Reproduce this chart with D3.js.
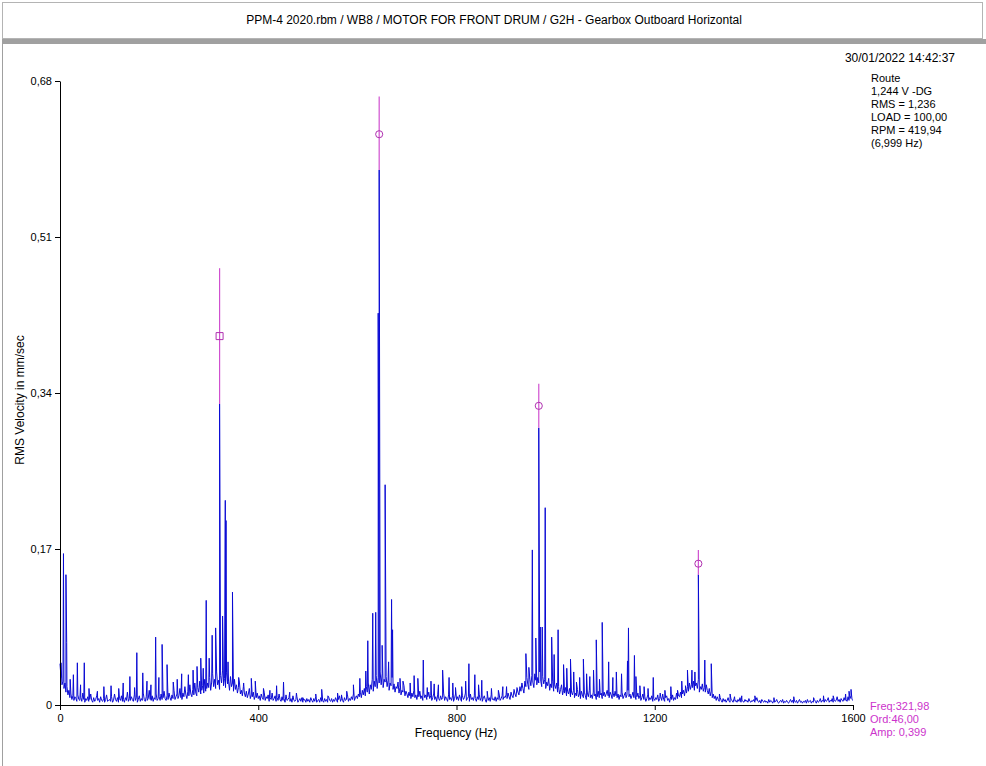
<!DOCTYPE html>
<html>
<head>
<meta charset="utf-8">
<script src="https://cdnjs.cloudflare.com/ajax/libs/d3/7.8.5/d3.min.js"></script>
<style>
  body { margin: 0; background: #fff; }
  svg { display: block; font-family: "Liberation Sans", Arial, sans-serif; }
</style>
</head>
<body>
<div id="chart"></div>
<script>
// Spectrum data
//================================
// noise floor, one value every 2 Hz from 0 to 1600 Hz, in 0.001 mm/sec (one row = 100 Hz)
var floorStep = 2;
var floorVals = [
  45,30,22,26,18,24,14,20,11,16, 8,12,6,10,5,9,7,4,11,6, 5,8,4,13,6,3,7,5,9,4, 6,12,5,3,8,4,6,10,5,7, 3,9,5,4,7,3,6,11,4,5,
  6,4,9,3,5,12,6,4,8,3, 7,5,10,4,6,3,8,5,14,4, 7,5,9,6,4,11,5,8,3,6, 10,4,7,5,13,6,4,9,5,7, 16,6,5,10,4,8,6,12,5,7,
  9,5,12,6,8,15,7,5,10,6, 13,8,5,11,7,16,6,9,12,7, 10,18,8,6,13,9,20,11,7,15, 10,22,12,9,17,11,24,13,10,19, 14,26,12,16,21,13,28,15,18,24,
  19,30,16,25,34,20,28,18,36,22, 27,17,32,24,38,21,29,19,35,23, 26,16,31,20,24,15,28,17,22,13, 19,25,12,16,10,20,13,9,15,8, 12,18,7,11,9,14,6,10,8,13,
  7,10,5,12,8,6,14,5,9,7, 11,4,8,6,13,5,7,10,4,8, 5,12,6,4,9,5,7,3,11,5, 6,8,4,7,3,10,5,4,6,9, 3,5,7,4,8,3,5,6,3,7,
  4,6,3,8,5,3,7,4,9,3, 5,6,3,8,4,5,3,7,4,6, 3,9,5,4,7,3,6,4,8,5, 3,6,10,4,7,5,3,8,5,6, 11,4,7,5,9,6,12,5,8,10,
  7,12,9,14,8,16,11,18,10,20, 14,24,12,22,17,28,15,26,20,32, 18,30,24,36,22,34,19,28,25,31, 20,27,16,24,21,30,17,23,14,20, 18,25,13,19,11,16,14,21,10,15,
  12,8,14,10,7,13,9,16,8,11, 6,12,9,15,7,10,5,13,8,11, 6,9,14,7,10,5,8,12,6,9, 4,11,7,5,10,6,8,13,5,9, 7,4,11,6,8,5,10,4,7,12,
  6,9,5,11,7,4,10,6,8,13, 5,7,9,4,12,6,8,5,10,7, 4,9,6,11,5,8,4,7,10,6, 3,9,5,8,4,11,6,7,5,9, 4,8,6,12,5,7,10,6,9,8,
  11,7,13,9,6,14,10,8,16,12, 9,18,14,11,20,15,24,18,13,26, 20,30,22,17,28,21,32,25,19,34, 27,22,30,24,36,26,20,31,23,28, 18,25,21,29,16,23,19,26,15,22,
  18,24,14,20,12,17,22,11,16,13, 19,10,15,12,18,9,14,11,16,8, 13,10,17,9,12,7,15,11,8,14, 10,6,13,9,16,8,11,7,14,10, 12,6,9,15,8,11,13,7,10,14,
  9,12,16,10,8,14,11,7,13,9, 15,10,8,12,6,11,9,14,7,10, 13,8,11,16,9,12,7,10,14,8, 11,6,9,13,7,10,5,8,12,6, 9,4,7,11,5,8,6,10,4,7,
  5,8,6,11,4,7,9,5,12,6, 4,8,10,5,7,3,9,6,11,5, 8,6,13,7,10,9,14,8,12,16, 10,18,13,20,15,24,17,22,19,26, 16,21,24,18,28,14,20,17,23,15,
  19,14,22,16,12,18,10,15,8,12, 7,10,5,9,6,4,8,5,3,7, 4,6,3,5,8,4,3,6,5,3, 7,4,5,3,6,4,8,3,5,4, 3,6,4,5,3,7,4,3,5,4,
  6,3,5,8,4,3,5,2,6,4, 3,5,3,4,2,6,3,5,4,2, 5,3,4,6,3,2,4,5,3,6, 2,4,3,5,3,2,4,6,3,5, 2,4,3,5,2,4,6,3,4,2,
  4,3,5,2,6,3,4,5,2,4, 3,6,4,2,5,3,4,7,3,5, 4,3,6,4,5,8,3,5,4,7, 3,6,4,5,9,4,6,3,7,5, 4,8,5,6,4,9,5,7,10,6,
  5
];

// main spectral lines [Hz, mm/sec]
var peakFreqs = [2,7,12,13.5,27,35,49,103,141,155,167,193,206,216,259,284,289,295,301,307,314,322,328,333.5,335,339,348,
  386,394,437,451,477,490,516,528,560,568,592,605,617,621,631,637,642,644,650,656,663,669,671,686,692,
  722,733,741,755,772,785,798,825,837,851,862,901,916,922,940,946,953,960,966,969,973,979,992,997,
  1005,1016,1030,1042,1056,1069,1082,1094,1107,1133,1141,1145,1147,1159,1162,1170,1197,1211,1246,
  1262,1266,1275,1281,1288,1301,1314,1322,1352,1361,1402,1560,1585,1592,1596];
var peakAmps = [0.046,0.165,0.142,0.068,0.033,0.046,0.046,0.021,0.031,0.057,0.035,0.074,0.066,0.044,0.033,0.051,0.040,0.114,0.051,0.076,0.084,0.328,0.097,0.223,0.201,0.047,0.123,
  0.029,0.026,0.021,0.025,0.013,0.008,0.012,0.017,0.013,0.011,0.022,0.029,0.037,0.070,0.100,0.101,0.427,0.583,0.065,0.240,0.047,0.115,0.082,0.029,0.026,
  0.029,0.049,0.019,0.023,0.038,0.030,0.019,0.045,0.033,0.027,0.015,0.020,0.017,0.019,0.056,0.041,0.169,0.073,0.302,0.085,0.085,0.215,0.074,0.055,
  0.082,0.044,0.050,0.025,0.050,0.031,0.071,0.090,0.047,0.034,0.014,0.048,0.084,0.054,0.031,0.021,0.030,0.013,0.016,
  0.021,0.038,0.038,0.036,0.142,0.049,0.045,0.010,0.012,0.009,0.010,0.010,0.012,0.015,0.017];

// smaller lines standing out of the floor [Hz, mm/sec]
var minorFreqs = [20,41,58,75,88,118,127,150,175,183,199,228,236,245,268,276,360,370,410,423,463,540,578,
  706,714,748,763,792,810,818,844,870,884,893,1022,1036,1048,1062,1076,1088,1115,1122,1178,1186,1220,1232,1254,
  1330,1375,1440,1480,1520,1540];
var minorAmps = [0.028,0.022,0.018,0.015,0.020,0.018,0.024,0.019,0.026,0.022,0.030,0.025,0.028,0.034,0.038,0.042,0.030,0.024,0.018,0.016,0.014,0.010,0.015,
  0.024,0.032,0.026,0.022,0.024,0.020,0.026,0.022,0.018,0.016,0.020,0.040,0.036,0.030,0.034,0.038,0.028,0.030,0.036,0.020,0.018,0.016,0.020,0.026,
  0.012,0.010,0.008,0.009,0.008,0.010];

// harmonic cursors
var cursorFreqs = [322, 644, 966, 1288];
var cursorLow = [0.328, 0.583, 0.302, 0.142];
var cursorHigh = [0.476, 0.663, 0.350, 0.169];
var cursorMark = [0.402, 0.622, 0.326, 0.154];

var yTicks = [0, 0.17, 0.34, 0.51, 0.68];
var xTicks = [0, 400, 800, 1200, 1600];

var titleText = "PPM-4 2020.rbm / WB8 / MOTOR FOR FRONT DRUM / G2H - Gearbox Outboard Horizontal";
var dateText = "30/01/2022 14:42:37";
var infoLines = ["Route", "1,244 V -DG", "RMS = 1,236", "LOAD = 100,00", "RPM = 419,94", "(6,999 Hz)"];
var cursorLines = ["Freq:321,98", "Ord:46,00", "Amp: 0,399"];

// Set up our chart area
//================================
var svgWidth = 986;
var svgHeight = 766;

var svg = d3.select("#chart")
  .append("svg")
  .attr("width", svgWidth)
  .attr("height", svgHeight);

// frame: title box, grey bar, left edge
svg.append("rect")
  .attr("x", 2.5).attr("y", 2.5)
  .attr("width", 980).attr("height", 36)
  .attr("fill", "#fff")
  .attr("stroke", "#b4b4b4");
svg.append("rect")
  .attr("x", 2).attr("y", 39)
  .attr("width", 984).attr("height", 5)
  .attr("fill", "#a0a0a0");
svg.append("line")
  .attr("x1", 2.5).attr("x2", 2.5)
  .attr("y1", 44).attr("y2", svgHeight)
  .attr("stroke", "#a0a0a0");

svg.append("text")
  .attr("x", 494).attr("y", 24)
  .attr("text-anchor", "middle")
  .attr("font-size", "12px")
  .text(titleText);

svg.append("text")
  .attr("x", 955).attr("y", 62)
  .attr("text-anchor", "end")
  .attr("font-size", "12px")
  .text(dateText);

svg.append("g").selectAll("text")
  .data(infoLines)
  .enter()
  .append("text")
  .attr("x", 871)
  .attr("y", (d, i) => 82 + i * 13)
  .attr("font-size", "11px")
  .text(d => d);

svg.append("g").selectAll("text")
  .data(cursorLines)
  .enter()
  .append("text")
  .attr("x", 870)
  .attr("y", (d, i) => 710 + i * 13)
  .attr("font-size", "11px")
  .attr("fill", "#cc33cc")
  .text(d => d);

// Scale functions
var xScale = d3.scaleLinear().domain([0, 1600]).range([60, 853]);
var yScale = d3.scaleLinear().domain([0, 0.68]).range([705, 81]);

// merge floor and lines into one spectrum
var spectrum = floorVals.map((v, i) => ({ f: i * floorStep, a: v / 1000 }));
peakFreqs.forEach((f, i) => spectrum.push({ f: f, a: peakAmps[i] }));
minorFreqs.forEach((f, i) => spectrum.push({ f: f + 0.5, a: minorAmps[i] }));
spectrum.sort((a, b) => a.f - b.f);

var line = d3.line()
  .x(d => xScale(d.f))
  .y(d => yScale(d.a));

svg.append("path")
  .datum(spectrum)
  .attr("fill", "none")
  .attr("stroke", "#0a0ad4")
  .attr("stroke-width", 1)
  .attr("d", line);

// cursors
var cursors = cursorFreqs.map((f, i) => ({ f: f, lo: cursorLow[i], hi: cursorHigh[i], m: cursorMark[i], i: i }));
svg.append("g").selectAll("line")
  .data(cursors)
  .enter()
  .append("line")
  .attr("x1", d => xScale(d.f)).attr("x2", d => xScale(d.f))
  .attr("y1", d => yScale(d.lo)).attr("y2", d => yScale(d.hi))
  .attr("stroke", "#d050d0")
  .attr("stroke-width", 1.2);

svg.append("g").selectAll("path")
  .data(cursors)
  .enter()
  .append("path")
  .attr("transform", d => `translate(${xScale(d.f)},${yScale(d.m)})`)
  .attr("d", d => d.i === 0 ? "M-3.5,-3.5H3.5V3.5H-3.5Z" : d3.symbol(d3.symbolCircle, 40)())
  .attr("fill", "none")
  .attr("stroke", "#b030b0")
  .attr("stroke-width", 1);

// Create and append axes
var bottomAxis = d3.axisBottom(xScale)
  .tickValues(xTicks)
  .tickSize(5)
  .tickSizeOuter(0)
  .tickFormat(d3.format("d"));
var leftAxis = d3.axisLeft(yScale)
  .tickValues(yTicks)
  .tickSize(5)
  .tickSizeOuter(0)
  .tickFormat(d => d === 0 ? "0" : d3.format(".2f")(d).replace(".", ","));

var gx = svg.append("g")
  .attr("transform", "translate(0,705)")
  .call(bottomAxis);
var gy = svg.append("g")
  .attr("transform", "translate(60,0)")
  .call(leftAxis);

[gx, gy].forEach(g => {
  g.selectAll("text").attr("font-family", "Liberation Sans, Arial, sans-serif").attr("font-size", "11px").attr("fill", "#000");
  g.selectAll("line,path").attr("stroke", "#000");
});
gx.selectAll("text").attr("dy", "0.71em").attr("y", 9);

// Axes Labels
svg.append("text")
  .attr("transform", "rotate(-90)")
  .attr("x", -400)
  .attr("y", 24)
  .attr("text-anchor", "middle")
  .attr("font-size", "12px")
  .text("RMS Velocity in mm/sec");

svg.append("text")
  .attr("x", 456)
  .attr("y", 737)
  .attr("text-anchor", "middle")
  .attr("font-size", "12px")
  .text("Frequency (Hz)");
</script>
</body>
</html>
